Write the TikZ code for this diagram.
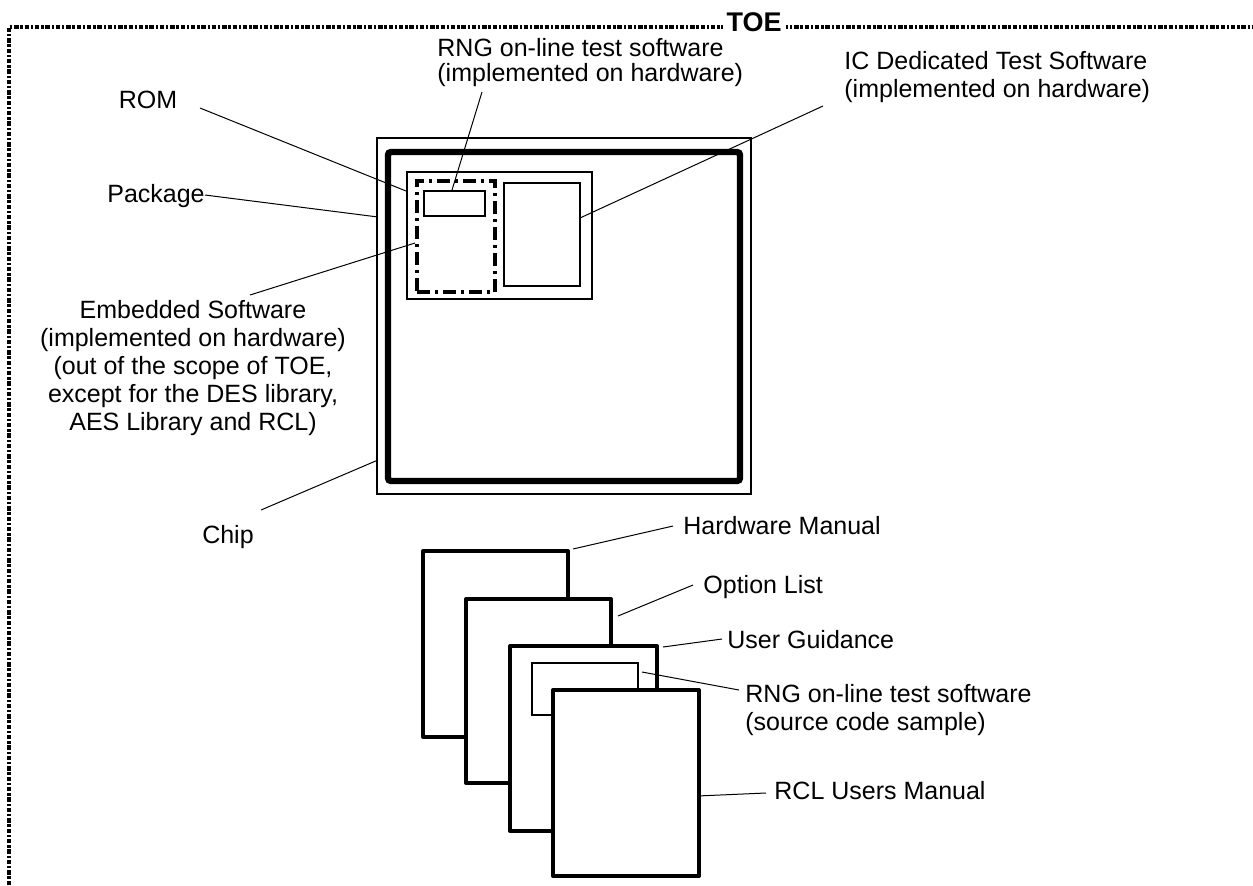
\documentclass[tikz,border=0pt]{standalone}
\usepackage{fontspec}
\setmainfont{Liberation Sans}
\usetikzlibrary{fit}
\begin{document}
\begin{tikzpicture}[x=0.5pt,y=-0.5pt,
  every node/.style={font=\fontsize{12.5pt}{14pt}\selectfont},
  lbl/.style={inner sep=0pt},
  leader/.style={line width=0.5pt},
  pkgbox/.style={draw, line width=0.6pt, inner sep=0pt, outer sep=0pt},
  chipbox/.style={draw, line width=3.2pt, rounded corners=1.5pt, inner sep=0pt, outer sep=0pt},
  rombox/.style={draw, line width=0.7pt, inner sep=0pt, outer sep=0pt},
  swbox/.style={draw, line width=2.2pt, dash pattern=on 6.5pt off 2.5pt on 1.5pt off 2.5pt, inner sep=0pt, outer sep=0pt},
  rngbox/.style={draw, line width=1pt, inner sep=0pt, outer sep=0pt},
  icbox/.style={draw, line width=0.8pt, inner sep=0pt, outer sep=0pt},
  docbox/.style={draw, fill=white, line width=2pt, line join=round, inner sep=0pt, outer sep=0pt},
  srcbox/.style={draw, fill=white, line width=1pt, inner sep=0pt, outer sep=0pt},
  toeline/.style={line width=1.9pt, dash pattern=on 2.2pt off 0.9pt on 1.2pt off 0.9pt},
]
\useasboundingbox (0,0) rectangle (1253,885);

% TOE boundary
\coordinate (toeB) at (9,885);
\coordinate (toeC) at (9,27);
\coordinate (toeR) at (1253,27);
\draw[toeline] (toeB) -- (toeC) -- (toeR);
\node[font=\fontsize{13.5pt}{14pt}\selectfont\bfseries, fill=white, inner xsep=2pt, inner ysep=1pt, anchor=base] (toe) at (754,31) {TOE};

% chip structure
\node[pkgbox, fit={(377,138) (751,494)}] (pkg) {};
\node[chipbox, fit={(388,152) (740,481)}] (chip) {};
\node[rombox, fit={(407,172) (592,299)}] (rom) {};
\node[swbox, fit={(417,181) (495,292)}] (sw) {};
\node[rngbox, fit={(424,191) (485,216)}] (rng) {};
\node[icbox, fit={(504,183) (580,286)}] (ic) {};

% labels upper part
\node[lbl, anchor=base] (romlbl) at (148,108) {ROM};
\node[lbl, anchor=base] (pkglbl) at (156,202) {Package};
\node[lbl, align=center] (swlbl) at (193,368) {Embedded Software\\(implemented on hardware)\\(out of the scope of TOE,\\except for the DES library,\\AES Library and RCL)};
\node[lbl, anchor=base] (chiplbl) at (228,543) {Chip};
\node[lbl, align=left, anchor=west, font=\fontsize{12.5pt}{12.5pt}\selectfont] (rnglbl) at (437,63) {RNG on-line test software\\(implemented on hardware)};
\node[lbl, align=left, anchor=west] (iclbl) at (844,77) {IC Dedicated Test Software\\(implemented on hardware)};

% leaders upper part
\coordinate (romA) at (200,108);  \coordinate (romB) at (406,191);
\coordinate (pkgA) at (205,195);  \coordinate (pkgB) at (378,217);
\coordinate (swA) at (250,295);   \coordinate (swB) at (415,243);
\coordinate (chipA) at (261,510); \coordinate (chipB) at (378,460);
\coordinate (rngA) at (482,92);   \coordinate (rngB) at (452,190);
\coordinate (icA) at (823,106);   \coordinate (icB) at (580,218);
\draw[leader] (romA) -- (romB);
\draw[leader] (pkgA) -- (pkgB);
\draw[leader] (swA) -- (swB);
\draw[leader] (chipA) -- (chipB);
\draw[leader] (rngA) -- (rngB);
\draw[leader] (icA) -- (icB);

% documents
\node[docbox, fit={(423,551) (568,737)}] (hwdoc) {};
\node[docbox, fit={(466,599) (611,783)}] (optdoc) {};
\node[docbox, fit={(510,646) (657,831)}] (ugdoc) {};
\node[srcbox, fit={(532,663) (638,715)}] (srcdoc) {};
\node[docbox, fit={(553,690) (699,876)}] (rcldoc) {};

% labels lower part
\node[lbl, anchor=base west] (hwlbl) at (683,534) {Hardware Manual};
\node[lbl, anchor=base west] (optlbl) at (703,593) {Option List};
\node[lbl, anchor=base west] (uglbl) at (727,648) {User Guidance};
\node[lbl, align=left, anchor=west] (srclbl) at (745,710) {RNG on-line test software\\(source code sample)};
\node[lbl, anchor=base west] (rcllbl) at (774,799) {RCL Users Manual};

% leaders lower part
\coordinate (hwA) at (573,549);  \coordinate (hwB) at (673,526);
\coordinate (optA) at (618,616); \coordinate (optB) at (693,585);
\coordinate (ugA) at (663,647);  \coordinate (ugB) at (722,639);
\coordinate (srcA) at (642,672); \coordinate (srcB) at (739,690);
\coordinate (rclA) at (697,796); \coordinate (rclB) at (766,793);
\draw[leader] (hwA) -- (hwB);
\draw[leader] (optA) -- (optB);
\draw[leader] (ugA) -- (ugB);
\draw[leader] (srcA) -- (srcB);
\draw[leader] (rclA) -- (rclB);
\end{tikzpicture}
\end{document}
